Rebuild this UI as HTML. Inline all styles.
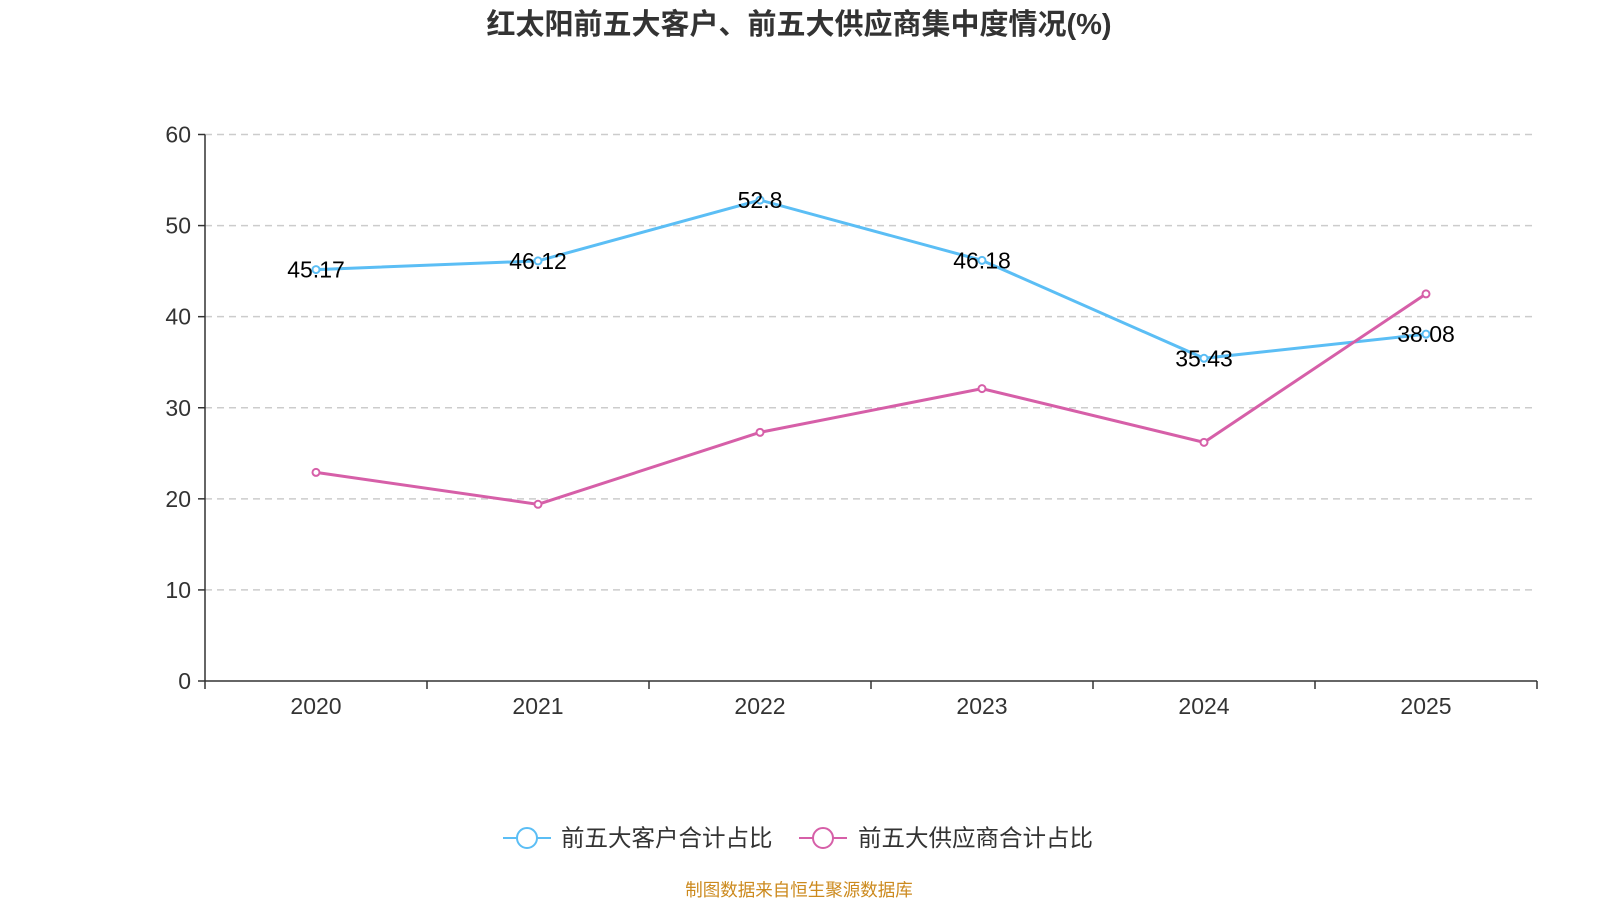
<!DOCTYPE html>
<html><head><meta charset="utf-8"><style>
body{margin:0;background:#fff;width:1600px;height:900px;overflow:hidden;font-family:"Liberation Sans","Noto Sans CJK SC",sans-serif}
</style></head><body>
<svg id="chart" width="1600" height="900" style="font-family:'Liberation Sans','Noto Sans CJK SC',sans-serif">
<text x="799" y="34" text-anchor="middle" font-size="29" font-weight="bold" fill="#333">红太阳前五大客户、前五大供应商集中度情况(%)</text>
<g id="grid"></g><g id="axes"></g><g id="series"></g>
<g>
<g>
<line x1="503" y1="838" x2="551" y2="838" stroke="#5bbef5" stroke-width="2"/>
<circle cx="527" cy="838" r="10" fill="#fff" stroke="#5bbef5" stroke-width="2"/>
<text x="561" y="846" font-size="23.5" fill="#333">前五大客户合计占比</text></g>
<g>
<line x1="799" y1="838" x2="847" y2="838" stroke="#d65fa8" stroke-width="2"/>
<circle cx="823" cy="838" r="10" fill="#fff" stroke="#d65fa8" stroke-width="2"/>
<text x="858" y="846" font-size="23.5" fill="#333">前五大供应商合计占比</text></g>
</g>
<text x="799" y="896" text-anchor="middle" font-size="17.5" fill="#cc8a1e">制图数据来自恒生聚源数据库</text>
</svg>
<script>
const categories=["2020","2021","2022","2023","2024","2025"];
const customers=[45.17,46.12,52.8,46.18,35.43,38.08];
const suppliers=[22.9,19.4,27.3,32.1,26.2,42.5];
const yTicks=[0,10,20,30,40,50,60];
const NS="http://www.w3.org/2000/svg";
const x0=205,x1=1537,y0=681,y1=134.5;
const band=(x1-x0)/categories.length;
const xs=i=>x0+band*(i+0.5);
const ys=v=>y0-(v/60)*(y0-y1);
function mk(t,a,p){const e=document.createElementNS(NS,t);for(const k in a)e.setAttribute(k,a[k]);p.appendChild(e);return e;}
const grid=document.getElementById('grid'),axes=document.getElementById('axes'),ser=document.getElementById('series');
yTicks.forEach(v=>{
 if(v>0){const g=mk('line',{x1:x0,x2:x1,y1:ys(v),y2:ys(v),stroke:'#ccc','stroke-width':1.5,'stroke-dasharray':'7,5'},grid);
 
 }
 mk('line',{x1:x0-7,x2:x0,y1:ys(v),y2:ys(v),stroke:'#333','stroke-width':1.5},axes);
 const t=mk('text',{x:x0-14,y:ys(v)+8,'text-anchor':'end','font-size':23,fill:'#333'},axes);t.textContent=v;
 
 
});
mk('line',{x1:x0,x2:x0,y1:y1,y2:y0,stroke:'#333','stroke-width':1.5},axes);
mk('line',{x1:x0,x2:x1,y1:y0,y2:y0,stroke:'#333','stroke-width':1.5},axes);
for(let i=0;i<=categories.length;i++)mk('line',{x1:x0+band*i,x2:x0+band*i,y1:y0,y2:y0+8,stroke:'#333','stroke-width':1.5},axes);
categories.forEach((c,i)=>{const t=mk('text',{x:xs(i),y:714,'text-anchor':'middle','font-size':23,fill:'#333'},axes);t.textContent=c;
 
 });
function draw(vals,color,name,labels){
 const p=mk('polyline',{points:vals.map((v,i)=>xs(i)+','+ys(v)).join(' '),fill:'none',stroke:color,'stroke-width':3},ser);
 
 
 vals.forEach((v,i)=>{const c=mk('circle',{cx:xs(i),cy:ys(v),r:3.5,fill:'#fff',stroke:color,'stroke-width':2},ser);
  
  
  if(labels){const t=mk('text',{x:xs(i),y:ys(v)+8,'text-anchor':'middle','font-size':23,fill:'#000'},ser);t.textContent=v;
   
   }});
}
draw(customers,'#5bbef5','customers',true);
draw(suppliers,'#d65fa8','suppliers',false);
</script>
</body></html>
